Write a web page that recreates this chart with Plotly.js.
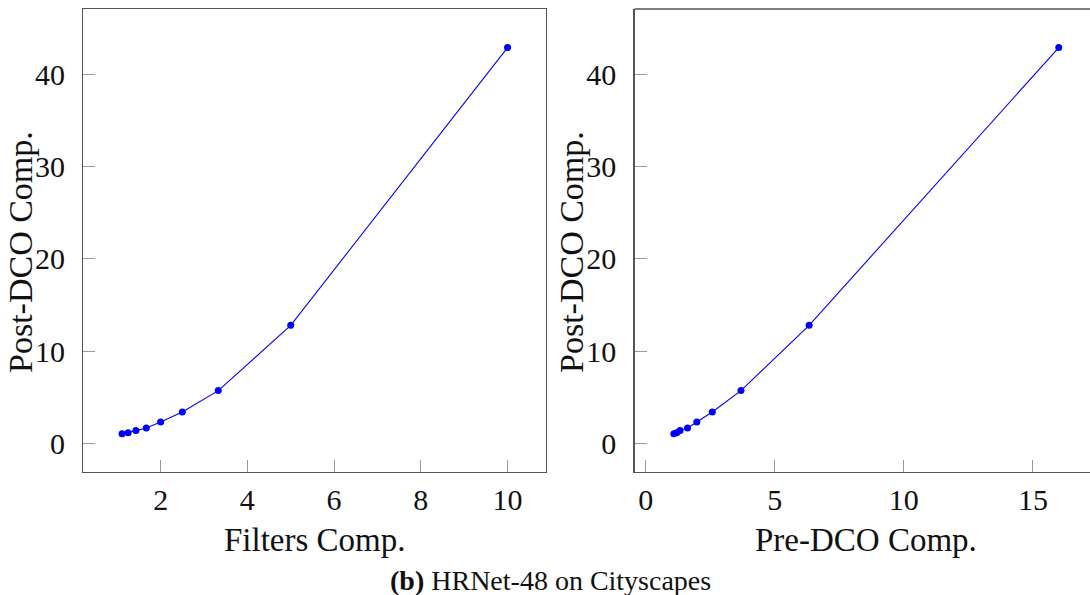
<!DOCTYPE html>
<html>
<head>
<meta charset="utf-8">
<script src="https://cdn.plot.ly/plotly-3.0.1.min.js"></script>
<style>html,body{margin:0;padding:0;background:#fff;}#chart{width:1090px;height:595px;}</style>
</head>
<body>
<div id="chart"></div>
<script>
// Data
const filtersComp = [1.11, 1.25, 1.43, 1.67, 2.0, 2.5, 3.33, 5.0, 10.0];
const preDcoComp  = [1.09, 1.20, 1.33, 1.62, 1.98, 2.58, 3.69, 6.33, 16.0];
const postDcoComp = [1.05, 1.16, 1.38, 1.66, 2.31, 3.39, 5.71, 12.78, 42.86];
const yTicks = [0, 10, 20, 30, 40];
const xTicksLeft = [2, 4, 6, 8, 10];
const xTicksRight = [0, 5, 10, 15];
const xTitleLeft = "Filters Comp.";
const xTitleRight = "Pre-DCO Comp.";
const yTitle = "Post-DCO Comp.";
const caption = "<b>(b)</b> HRNet-48 on Cityscapes";

const W = 1090, H = 595;
const blue = "#0000ff";
const serif = '"Liberation Serif", "Times New Roman", serif';
const frame = "#555555";
const tickC = "#9a9a9a";

const traceStyle = {
  mode: "lines+markers",
  line: {color: blue, width: 1.1},
  marker: {color: blue, size: 7},
  hoverinfo: "skip",
  showlegend: false
};

const data = [
  Object.assign({x: filtersComp, y: postDcoComp, xaxis: "x", yaxis: "y"}, traceStyle),
  Object.assign({x: preDcoComp, y: postDcoComp, xaxis: "x2", yaxis: "y2"}, traceStyle)
];

const px2x = p => p / W;
const px2y = p => (H - p) / H;

const yTop = 9, yBot = 471.5;
const commonAxis = {
  showgrid: false, zeroline: false,
  ticks: "inside", ticklen: 12, tickcolor: tickC, tickwidth: 1,
  showline: true, linecolor: frame, linewidth: 1.3,
  tickfont: {family: serif, size: 30, color: "#111"},
  fixedrange: true
};

const layout = {
  width: W, height: H,
  margin: {l: 0, r: 0, t: 0, b: 0},
  paper_bgcolor: "#fff", plot_bgcolor: "#fff",
  xaxis: Object.assign({}, commonAxis, {
    domain: [px2x(83.4), px2x(545.7)],
    range: [0.219, 10.88],
    tickvals: xTicksLeft, ticktext: xTicksLeft.map(String),
    mirror: true, anchor: "y", ticklabelstandoff: 1
  }),
  yaxis: Object.assign({}, commonAxis, {
    domain: [px2y(yBot), px2y(yTop)],
    range: [-3.05, 47.04],
    tickvals: yTicks, ticktext: yTicks.map(String),
    mirror: true, anchor: "x", ticklabelstandoff: 11
  }),
  xaxis2: Object.assign({}, commonAxis, {
    domain: [px2x(634.5), 1],
    range: [-0.434, 17.21],
    tickvals: xTicksRight, ticktext: xTicksRight.map(String),
    anchor: "y2", ticklabelstandoff: 1
  }),
  yaxis2: Object.assign({}, commonAxis, {
    domain: [px2y(yBot), px2y(yTop)],
    range: [-3.05, 47.04],
    tickvals: yTicks, ticktext: yTicks.map(String),
    anchor: "x2", ticklabelstandoff: 11
  }),
  shapes: [
    {type: "line", xref: "x2 domain", yref: "y2 domain", x0: 0, x1: 1.01, y0: 1, y1: 1,
     line: {color: frame, width: 1.3}}
  ],
  annotations: [
    {text: xTitleLeft, xref: "paper", yref: "paper", x: px2x(314.5), y: px2y(540),
     showarrow: false, xanchor: "center", yanchor: "middle", font: {family: serif, size: 33, color: "#111"}},
    {text: xTitleRight, xref: "paper", yref: "paper", x: px2x(865.6), y: px2y(540),
     showarrow: false, xanchor: "center", yanchor: "middle", font: {family: serif, size: 33, color: "#111"}},
    {text: yTitle, xref: "paper", yref: "paper", x: px2x(20), y: px2y(252), textangle: -90,
     showarrow: false, xanchor: "center", yanchor: "middle", font: {family: serif, size: 34, color: "#111"}},
    {text: yTitle, xref: "paper", yref: "paper", x: px2x(571), y: px2y(252), textangle: -90,
     showarrow: false, xanchor: "center", yanchor: "middle", font: {family: serif, size: 34, color: "#111"}},
    {text: caption, xref: "paper", yref: "paper", x: px2x(550), y: px2y(580),
     showarrow: false, xanchor: "center", yanchor: "middle", font: {family: serif, size: 28, color: "#111"}}
  ]
};

Plotly.newPlot("chart", data, layout, {staticPlot: true, displayModeBar: false});
</script>
</body>
</html>
